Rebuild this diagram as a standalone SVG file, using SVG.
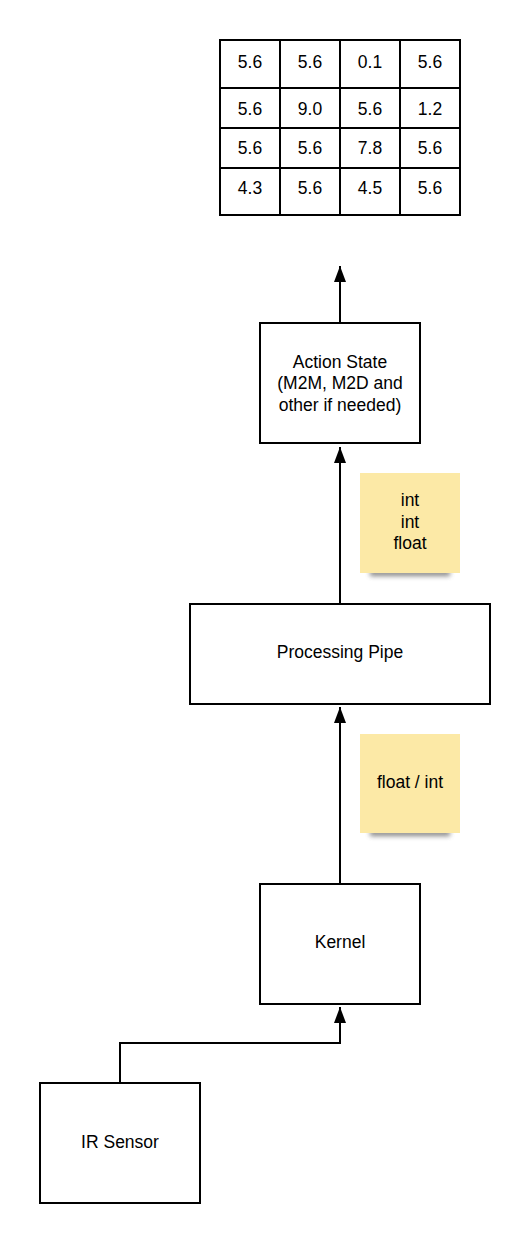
<svg xmlns="http://www.w3.org/2000/svg" width="530" height="1244" viewBox="0 0 530 1244">
<style>
.box{fill:#fff;stroke:#000;stroke-width:2}
.t{font-family:"Liberation Sans",Arial,sans-serif;font-size:17.5px;fill:#000;text-anchor:middle}
.edge{fill:none;stroke:#000;stroke-width:2}
.note{fill:#FCE9A6}
.shadow{fill:#666;opacity:0.8}
.grid{fill:none;stroke:#000;stroke-width:2}
</style>
<defs>
<marker id="arr" markerWidth="16" markerHeight="12" refX="16" refY="6" orient="auto" markerUnits="userSpaceOnUse" viewBox="0 0 16 12">
<path d="M0,0 L16,6 L0,12 Z" fill="#000"/>
</marker>
<filter id="sh" x="-20%" y="-100%" width="140%" height="300%">
<feGaussianBlur stdDeviation="2.5"/>
</filter>
</defs>
<rect width="530" height="1244" fill="#fff"/>

<g id="table">
<rect x="220" y="40" width="240" height="175" class="grid"/>
<line x1="280" y1="40" x2="280" y2="215" class="grid"/>
<line x1="340" y1="40" x2="340" y2="215" class="grid"/>
<line x1="400" y1="40" x2="400" y2="215" class="grid"/>
<line x1="220" y1="88" x2="460" y2="88" class="grid"/>
<line x1="220" y1="128" x2="460" y2="128" class="grid"/>
<line x1="220" y1="168" x2="460" y2="168" class="grid"/>
<text class="t" x="250" y="68">5.6</text><text class="t" x="310" y="68">5.6</text><text class="t" x="370" y="68">0.1</text><text class="t" x="430" y="68">5.6</text>
<text class="t" x="250" y="115">5.6</text><text class="t" x="310" y="115">9.0</text><text class="t" x="370" y="115">5.6</text><text class="t" x="430" y="115">1.2</text>
<text class="t" x="250" y="154">5.6</text><text class="t" x="310" y="154">5.6</text><text class="t" x="370" y="154">7.8</text><text class="t" x="430" y="154">5.6</text>
<text class="t" x="250" y="194">4.3</text><text class="t" x="310" y="194">5.6</text><text class="t" x="370" y="194">4.5</text><text class="t" x="430" y="194">5.6</text>
</g>

<g id="connectors">
<path class="edge" d="M340,323 L340,266" marker-end="url(#arr)"/>
<path class="edge" d="M340,604 L340,447" marker-end="url(#arr)"/>
<path class="edge" d="M340,884 L340,707" marker-end="url(#arr)"/>
<path class="edge" d="M120,1083 L120,1043 L340,1043 L340,1007" marker-end="url(#arr)"/>
</g>

<g id="action-state">
<rect class="box" x="260" y="323" width="160" height="120"/>
<text class="t" x="340" y="368">Action State</text>
<text class="t" x="340" y="389">(M2M, M2D and</text>
<text class="t" x="340" y="411">other if needed)</text>
</g>

<g id="note-1">
<rect class="shadow" x="370" y="570" width="80" height="6" filter="url(#sh)"/>
<rect class="note" x="360" y="473" width="100" height="100"/>
<text class="t" x="410" y="506">int</text>
<text class="t" x="410" y="528">int</text>
<text class="t" x="410" y="549">float</text>
</g>

<g id="processing-pipe">
<rect class="box" x="190" y="604" width="300" height="100"/>
<text class="t" x="340" y="658">Processing Pipe</text>
</g>

<g id="note-2">
<rect class="shadow" x="370" y="830" width="80" height="6" filter="url(#sh)"/>
<rect class="note" x="360" y="734" width="100" height="99"/>
<text class="t" x="410" y="788">float / int</text>
</g>

<g id="kernel">
<rect class="box" x="260" y="884" width="160" height="120"/>
<text class="t" x="340" y="948">Kernel</text>
</g>

<g id="ir-sensor">
<rect class="box" x="40" y="1083" width="160" height="120"/>
<text class="t" x="120" y="1148">IR Sensor</text>
</g>
</svg>
